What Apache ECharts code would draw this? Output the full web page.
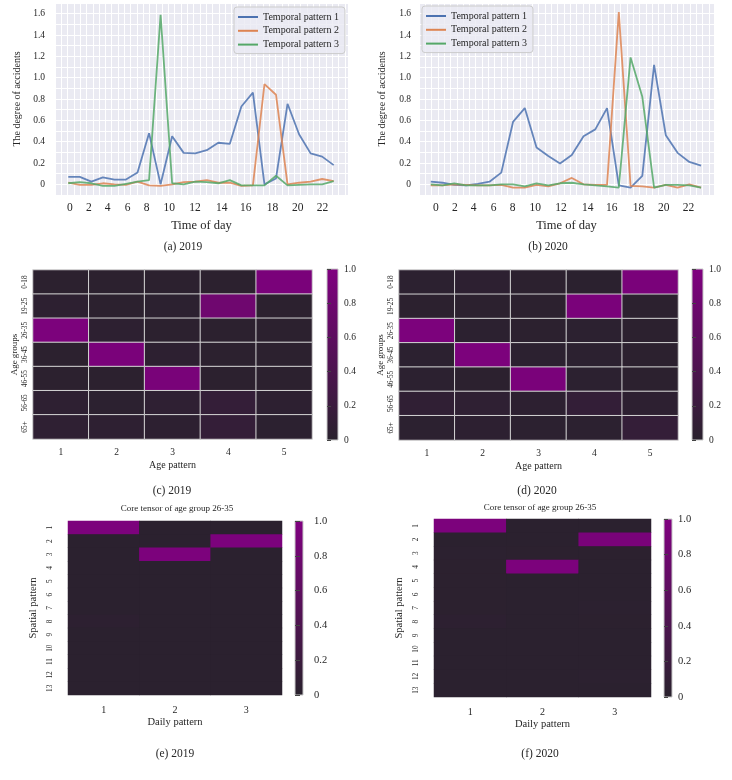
<!DOCTYPE html>
<html>
<head>
<meta charset="utf-8">
<script src="https://cdn.jsdelivr.net/npm/echarts@6/dist/echarts.min.js"></script>
<style>html,body{margin:0;padding:0;background:#fff}#c{width:732px;height:780px}</style>
</head>
<body>
<div id="c"></div>
<script>
// ---------------- DATA ----------------
const hours = [0,1,2,3,4,5,6,7,8,9,10,11,12,13,14,15,16,17,18,19,20,21,22,23];
const timeTickLabels = ['0','2','4','6','8','10','12','14','16','18','20','22'];
const timeTickAt2019 = [0.14,1.79,3.41,5.14,6.79,8.76,10.98,13.29,15.38,17.69,19.88,22.03];
const timeTickAt2020 = [0.43,2.05,3.64,5.34,6.96,8.89,11.08,13.35,15.4,17.67,19.83,21.93];
const patternNames = ['Temporal pattern 1','Temporal pattern 2','Temporal pattern 3'];

const temporal2019_p1 = [0.07,0.07,0.025,0.065,0.045,0.045,0.11,0.48,0.0,0.45,0.295,0.29,0.32,0.39,0.38,0.73,0.86,0.0,0.055,0.755,0.47,0.29,0.26,0.18];
const temporal2019_p2 = [0.015,-0.005,-0.005,0.01,0.0,-0.005,0.025,-0.01,-0.015,0.0,0.02,0.025,0.04,0.015,0.015,-0.015,-0.01,0.94,0.84,0.0,0.015,0.025,0.05,0.03];
const temporal2019_p3 = [0.01,0.02,0.01,-0.015,-0.015,0.005,0.025,0.04,1.59,0.01,0.0,0.025,0.02,0.01,0.04,-0.01,-0.01,-0.01,0.08,-0.01,-0.005,0.0,0.0,0.03];

const temporal2020_p1 = [0.025,0.015,-0.005,-0.01,0.005,0.025,0.11,0.585,0.715,0.345,0.265,0.195,0.275,0.45,0.515,0.715,-0.01,-0.03,0.08,1.12,0.46,0.295,0.21,0.175];
const temporal2020_p2 = [-0.01,-0.01,0.0,-0.005,-0.01,-0.01,-0.005,-0.03,-0.03,-0.005,-0.02,0.01,0.06,0.0,-0.005,-0.005,1.615,-0.015,-0.02,-0.03,-0.005,-0.03,0.0,-0.03];
const temporal2020_p3 = [0.0,-0.01,0.01,-0.01,-0.01,-0.01,0.0,0.0,-0.02,0.01,-0.01,0.01,0.015,0.0,-0.01,-0.02,-0.03,1.19,0.82,-0.03,-0.005,-0.005,-0.01,-0.03];

const ageGroups = ['0-18','19-25','26-35','36-45','46-55','56-65','65+'];
const agePatterns = ['1','2','3','4','5'];
const ageFactor2019 = [
  [0.03,0.03,0.03,0.03,0.93],
  [0.05,0.03,0.04,0.80,0.03],
  [0.95,0.05,0.03,0.03,0.03],
  [0.03,0.93,0.05,0.03,0.03],
  [0.03,0.03,0.92,0.03,0.03],
  [0.06,0.04,0.07,0.13,0.05],
  [0.07,0.06,0.05,0.13,0.04]
];
const ageFactor2020 = [
  [0.04,0.05,0.03,0.02,0.93],
  [0.03,0.03,0.03,0.93,0.03],
  [0.95,0.04,0.03,0.04,0.03],
  [0.04,0.95,0.04,0.04,0.03],
  [0.04,0.03,0.93,0.04,0.03],
  [0.08,0.07,0.05,0.12,0.05],
  [0.04,0.05,0.04,0.04,0.13]
];

const spatialPatterns = ['1','2','3','4','5','6','7','8','9','10','11','12','13'];
const dailyPatterns = ['1','2','3'];
const core2019 = [
  [0.95,0.02,0.02],[0.02,0.02,0.95],[0.02,0.95,0.02],[0.02,0.02,0.02],[0.02,0.02,0.02],
  [0.02,0.02,0.02],[0.02,0.02,0.02],[0.05,0.02,0.02],[0.02,0.02,0.02],[0.02,0.02,0.02],
  [0.02,0.02,0.02],[0.02,0.02,0.02],[0.02,0.02,0.02]
];
const core2020 = [
  [0.95,0.02,0.02],[0.02,0.02,0.92],[0.04,0.03,0.03],[0.03,0.95,0.02],[0.03,0.02,0.02],
  [0.03,0.02,0.02],[0.03,0.02,0.04],[0.05,0.02,0.03],[0.02,0.02,0.02],[0.02,0.02,0.02],
  [0.02,0.02,0.02],[0.02,0.02,0.04],[0.02,0.02,0.02]
];
const captions = ['(a) 2019','(b) 2020','(c) 2019','(d) 2020','(e) 2019','(f) 2020'];
const coreTitle = 'Core tensor of age group 26-35';

// ---------------- STYLE ----------------
const FONT = '"Liberation Serif","Times New Roman",serif';
const TXT = '#262626';
const lineColors = ['#4C72B0','#DD8452','#55A868'];
const heatLow = '#29222D', heatHigh = '#800080';

const grids = [], xAxes = [], yAxes = [], series = [], visualMaps = [], legends = [], graphics = [];

function fmtDec(v){ return v === 0 ? '0' : v.toFixed(1); }

function linePanel(p) {
  const gi = grids.length;
  grids.push({left:p.left, top:3, width:p.width, height:192, show:true, backgroundColor:'#EAEAF2', borderWidth:0, outerBoundsMode:'none'});
  const xi = xAxes.length;
  xAxes.push({
    gridIndex:gi, type:'value', min:p.xMin, max:p.xMax,
    axisLine:{show:false}, axisTick:{show:false}, splitLine:{show:false},
    axisLabel:{customValues:p.ticks, margin:7, fontFamily:FONT, fontSize:11.5, color:TXT,
      formatter:function(v){ let best=0,bd=1e9; p.ticks.forEach((t,k)=>{const d=Math.abs(t-v); if(d<bd){bd=d;best=k;}}); return timeTickLabels[best]; }},
    name:'Time of day', nameLocation:'middle', nameGap:24,
    nameTextStyle:{fontFamily:FONT, fontSize:12.5, color:TXT}
  });
  // vertical background grid lines
  xAxes.push({
    gridIndex:gi, type:'value', min:0, max:p.width/6.3, interval:1, position:'top',
    axisLine:{show:false}, axisTick:{show:false}, axisLabel:{show:false},
    splitLine:{show:true, lineStyle:{color:'#ffffff', width:1}}
  });
  const yi = yAxes.length;
  yAxes.push({
    gridIndex:gi, type:'value', min:-0.1, max:1.7, interval:0.1,
    axisLine:{show:false}, axisTick:{show:false},
    splitLine:{show:true, lineStyle:{color:'#ffffff', width:1}},
    axisLabel:{margin:p.yMargin, fontFamily:FONT, fontSize:9.5, color:TXT,
      formatter:function(v){ const r=Math.round(v*10); if(r<0||r>16||r%2) return ''; return r===0?'0':(r/10).toFixed(1); }},
    name:'The degree of accidents', nameLocation:'middle', nameGap:p.nameGap, nameRotate:90,
    nameTextStyle:{fontFamily:FONT, fontSize:10, color:TXT}
  });
  p.data.forEach((arr,k)=>{
    series.push({
      type:'line', name:patternNames[k], xAxisIndex:xi, yAxisIndex:yi,
      data:hours.map((h,i)=>[h,arr[i]]), showSymbol:false, symbol:'none', smooth:false,
      lineStyle:{color:lineColors[k], width:1.8, opacity:0.85}, itemStyle:{color:lineColors[k]},
      emphasis:{disabled:true}, silent:true, animation:false
    });
  });
  legends.push({
    data:patternNames, left:p.legLeft, top:p.legTop, orient:'vertical', icon:'rect',
    itemWidth:20, itemHeight:2, itemGap:3.8, padding:[5,6,4,4],
    backgroundColor:'rgba(234,234,242,0.8)', borderColor:'#cccccc', borderWidth:1, borderRadius:3,
    textStyle:{fontFamily:FONT, fontSize:10, color:TXT, lineHeight:10}, selectedMode:false
  });
}

function heatPanel(p) {
  const gi = grids.length;
  grids.push({left:p.left, top:p.top, width:p.width, height:p.height, outerBoundsMode:'none',
    show:!p.border, backgroundColor:heatLow, borderWidth:0});
  const xi = xAxes.length;
  xAxes.push({
    gridIndex:gi, type:'category', data:p.xCats,
    axisLine:{show:false}, axisTick:{show:false}, splitLine:{show:false},
    axisLabel:{margin:p.xMargin, fontFamily:FONT, fontSize:p.xFont, color:TXT},
    name:p.xName, nameLocation:'middle', nameGap:p.xNameGap,
    nameTextStyle:{fontFamily:FONT, fontSize:p.xNameFont, color:TXT}
  });
  const yi = yAxes.length;
  yAxes.push({
    gridIndex:gi, type:'category', data:p.yCats, inverse:true,
    axisLine:{show:false}, axisTick:{show:false}, splitLine:{show:false},
    axisLabel:{rotate:90, margin:p.yMargin, fontFamily:FONT, fontSize:p.yFont, color:TXT, interval:0},
    name:p.yName, nameLocation:'middle', nameGap:p.yNameGap, nameRotate:90,
    nameTextStyle:{fontFamily:FONT, fontSize:p.yNameFont, color:TXT}
  });
  const data = [];
  p.matrix.forEach((row,r)=>row.forEach((v,c)=>data.push([c,r,v])));
  const si = series.length;
  series.push({
    type:'heatmap', xAxisIndex:xi, yAxisIndex:yi, data:data,
    itemStyle:p.border ? {borderColor:'#d4d4d4', borderWidth:1} : {borderWidth:0},
    emphasis:{disabled:true}, silent:true, animation:false
  });
  // colour scale used by the heatmap (its own widget hidden; colourbar drawn as a gradient-filled grid)
  visualMaps.push({
    type:'continuous', seriesIndex:si, min:0, max:1, show:false,
    inRange:{color:[heatLow, heatHigh]}
  });
  const cg = grids.length;
  grids.push({left:p.cb.left, top:p.cb.top, width:p.cb.width, height:p.cb.height, outerBoundsMode:'none',
    show:true, borderColor:'#c8c8c8', borderWidth:1,
    backgroundColor:{type:'linear', x:0, y:0, x2:0, y2:1, colorStops:[{offset:0,color:heatHigh},{offset:1,color:heatLow}]}});
  xAxes.push({gridIndex:cg, type:'value', min:0, max:1, show:false});
  yAxes.push({
    gridIndex:cg, type:'value', min:0, max:1, interval:0.2, position:'right',
    axisLine:{show:false}, splitLine:{show:false},
    axisTick:{show:true, length:p.cb.tick, lineStyle:{color:'#444', width:1}},
    axisLabel:{margin:p.cb.margin, fontFamily:FONT, fontSize:p.cb.font, color:TXT, formatter:fmtDec}
  });
  series.push({type:'line', xAxisIndex:xAxes.length-1, yAxisIndex:yAxes.length-1, data:[], silent:true});
}

linePanel({left:55, width:293, xMin:-1.15, xMax:24.24, ticks:timeTickAt2019, yMargin:10, nameGap:33,
  data:[temporal2019_p1,temporal2019_p2,temporal2019_p3], legLeft:234, legTop:7});
linePanel({left:419, width:295, xMin:-1.0, xMax:24.1, ticks:timeTickAt2020, yMargin:8, nameGap:32,
  data:[temporal2020_p1,temporal2020_p2,temporal2020_p3], legLeft:422, legTop:6});

heatPanel({left:33, top:270, width:279, height:169, xCats:agePatterns, yCats:ageGroups, matrix:ageFactor2019, border:true,
  xMargin:8, xFont:9.5, xName:'Age pattern', xNameGap:21, xNameFont:10,
  yMargin:4, yFont:7.3, yName:'Age groups', yNameGap:14, yNameFont:9,
  cb:{left:327, top:269, width:11, height:171, tick:4, margin:6, font:9.5}});
heatPanel({left:399, top:270, width:279, height:170, xCats:agePatterns, yCats:ageGroups, matrix:ageFactor2020, border:true,
  xMargin:8, xFont:9.5, xName:'Age pattern', xNameGap:21, xNameFont:10,
  yMargin:4, yFont:7.3, yName:'Age groups', yNameGap:14, yNameFont:9,
  cb:{left:692, top:269, width:11, height:171, tick:4, margin:6, font:9.5}});
heatPanel({left:68, top:521, width:214, height:174, xCats:dailyPatterns, yCats:spatialPatterns, matrix:core2019, border:false,
  xMargin:10, xFont:10, xName:'Daily pattern', xNameGap:22, xNameFont:10.5,
  yMargin:14, yFont:7.3, yName:'Spatial pattern', yNameGap:29, yNameFont:10.5,
  cb:{left:295, top:521, width:8, height:174, tick:5, margin:11, font:10.5}});
heatPanel({left:434, top:519, width:217, height:178, xCats:dailyPatterns, yCats:spatialPatterns, matrix:core2020, border:false,
  xMargin:10, xFont:10, xName:'Daily pattern', xNameGap:22, xNameFont:10.5,
  yMargin:14, yFont:7.3, yName:'Spatial pattern', yNameGap:29, yNameFont:10.5,
  cb:{left:664, top:519, width:8, height:178, tick:4, margin:6, font:10.5}});

const capPos = [[183,247],[548,247],[172,491],[537,491],[175,754],[540,754]];
captions.forEach((t,i)=>graphics.push({type:'text', x:capPos[i][0], y:capPos[i][1], silent:true,
  style:{text:t, fill:TXT, fontFamily:FONT, fontSize:11.5, align:'center', verticalAlign:'middle', textAlign:'center', textVerticalAlign:'middle'}}));
[[177,509],[540,508]].forEach(pos=>graphics.push({type:'text', x:pos[0], y:pos[1], silent:true,
  style:{text:coreTitle, fill:TXT, fontFamily:FONT, fontSize:9, align:'center', verticalAlign:'middle', textAlign:'center', textVerticalAlign:'middle'}}));

const chart = echarts.init(document.getElementById('c'));
chart.setOption({
  animation:false,
  backgroundColor:'#ffffff',
  textStyle:{fontFamily:FONT},
  grid:grids, xAxis:xAxes, yAxis:yAxes, series:series,
  visualMap:visualMaps, legend:legends, graphic:graphics
});
</script>
</body>
</html>
